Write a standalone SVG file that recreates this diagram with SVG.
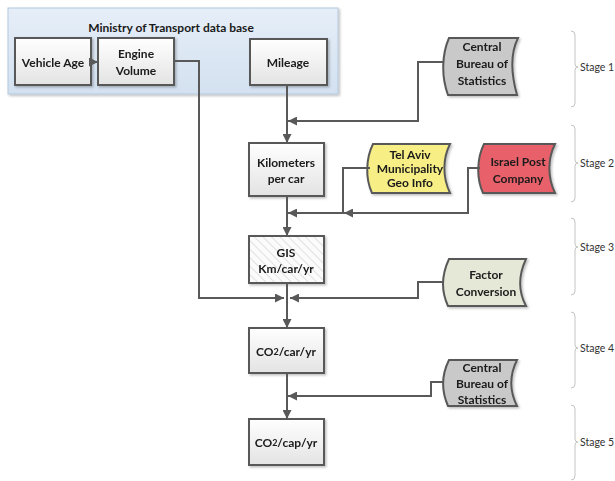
<svg xmlns="http://www.w3.org/2000/svg" width="615" height="481" viewBox="0 0 615 481">
<style>
text{font-family:Lato,"Liberation Sans",sans-serif;font-weight:bold;font-size:12px;fill:#1a1a1a;text-anchor:middle;dominant-baseline:central}
.box{fill:url(#gBox);stroke:#595959;stroke-width:2}
.doc{stroke:#595959;stroke-width:2}
.con{fill:none;stroke:#595959;stroke-width:2}
.brace{fill:none;stroke:#c4c4c4;stroke-width:1}
.stage{font-weight:normal;font-size:10.5px;fill:#333;text-anchor:start}
</style>
<defs>
<linearGradient id="gBox" x1="0" y1="0" x2="0" y2="1"><stop offset="0" stop-color="#ffffff"/><stop offset="1" stop-color="#e3e3e3"/></linearGradient>
<linearGradient id="gMin" x1="0" y1="0" x2="0" y2="1"><stop offset="0" stop-color="#e6eef8"/><stop offset="1" stop-color="#d3e1f0"/></linearGradient>
<pattern id="hatch" width="6" height="6" patternUnits="userSpaceOnUse" patternTransform="rotate(-45)"><rect width="6" height="6" fill="#fbfbfb"/><line x1="0" y1="0" x2="0" y2="6" stroke="#c6c6c6" stroke-width="1"/></pattern>
<marker id="arr" viewBox="0 0 10 10" refX="10" refY="5" markerWidth="9" markerHeight="9" markerUnits="userSpaceOnUse" orient="auto"><path d="M0,0 L10,5 L0,10 z" fill="#595959"/></marker>
<filter id="sh" x="-10%" y="-10%" width="130%" height="130%"><feDropShadow dx="1.5" dy="1.5" stdDeviation="1.2" flood-color="#000" flood-opacity="0.25"/></filter>
</defs>

<g id="ministry">
<rect x="8" y="8" width="330" height="86" fill="url(#gMin)" stroke="#b3c7de" stroke-width="1" filter="url(#sh)"/>
<text x="171" y="27">Ministry of Transport data base</text>
</g>

<g id="vehicle-age" filter="url(#sh)">
<rect class="box" x="15" y="38" width="76" height="47"/>
<text x="53" y="62">Vehicle Age</text>
</g>
<g id="engine-volume" filter="url(#sh)">
<rect class="box" x="98" y="38" width="76" height="47"/>
<text x="136" y="53">Engine</text>
<text x="136" y="70">Volume</text>
</g>
<g id="mileage" filter="url(#sh)">
<rect class="box" x="250" y="39" width="77" height="46"/>
<text x="288" y="62">Mileage</text>
</g>

<g id="cbs1" filter="url(#sh)">
<path class="doc" fill="#c9c9c9" d="M449,38 L518,38 C511,52 510,70 517,95 L448,95 C441,76 442,54 449,38 z"/>
<text x="482" y="46" font-size="13">Central</text>
<text x="482" y="63" font-size="13">Bureau of</text>
<text x="482" y="80" font-size="13">Statistics</text>
</g>

<g id="km-per-car" filter="url(#sh)">
<rect class="box" x="249" y="143" width="75" height="53"/>
<text x="286" y="162">Kilometers</text>
<text x="286" y="178">per car</text>
</g>

<g id="tel-aviv" filter="url(#sh)">
<path class="doc" fill="#f7ef85" d="M373,144 L450,144 C443,158 442,176 450,193 L372,193 C365,178 366,158 373,144 z"/>
<text x="410" y="154" font-size="11">Tel Aviv</text>
<text x="410" y="168" font-size="11">Municipality</text>
<text x="410" y="182" font-size="11">Geo Info</text>
</g>

<g id="israel-post" filter="url(#sh)">
<path class="doc" fill="#e8616a" d="M484,144 L555,144 C548,158 547,176 555,193 L483,193 C476,178 477,158 484,144 z"/>
<text x="518" y="161">Israel Post</text>
<text x="518" y="178">Company</text>
</g>

<g id="gis" filter="url(#sh)">
<rect x="249" y="236" width="75" height="47" fill="url(#hatch)" stroke="#595959" stroke-width="2"/>
<text x="286" y="252">GIS</text>
<text x="286" y="268">Km/car/yr</text>
</g>

<g id="factor" filter="url(#sh)">
<path class="doc" fill="#e5e8d6" d="M449,259 L526,259 C519,274 518,291 526,306 L448,306 C441,291 442,274 449,259 z"/>
<text x="486" y="274" font-size="13">Factor</text>
<text x="486" y="291" font-size="13">Conversion</text>
</g>

<g id="co2-car" filter="url(#sh)">
<rect class="box" x="249" y="328" width="75" height="45"/>
<text x="286" y="351">CO<tspan font-size="9">2</tspan>/car/yr</text>
</g>

<g id="cbs2" filter="url(#sh)">
<path class="doc" fill="#c9c9c9" d="M449,360 L517,360 C510,374 509,390 517,406 L448,406 C441,390 442,374 449,360 z"/>
<text x="482" y="367" font-size="13">Central</text>
<text x="482" y="383" font-size="13">Bureau of</text>
<text x="482" y="399" font-size="13">Statistics</text>
</g>

<g id="co2-cap" filter="url(#sh)">
<rect class="box" x="249" y="419" width="75" height="46"/>
<text x="286" y="442">CO<tspan font-size="9">2</tspan>/cap/yr</text>
</g>

<g id="connectors">
<path class="con" d="M91,62 L98,62" marker-end="url(#arr)"/>
<path class="con" d="M174,61 L199,61 L199,298 L284,298" marker-end="url(#arr)"/>
<path class="con" d="M287,85 L287,143" marker-end="url(#arr)"/>
<path class="con" d="M444,62 L418,62 L418,121 L288,121" marker-end="url(#arr)"/>
<path class="con" d="M370,168 L343,168 L343,213 L288,213" marker-end="url(#arr)"/>
<path class="con" d="M480,168 L468,168 L468,213 L344,213" marker-end="url(#arr)"/>
<path class="con" d="M287,196 L287,236" marker-end="url(#arr)"/>
<path class="con" d="M444,282 L418,282 L418,298 L290,298" marker-end="url(#arr)"/>
<path class="con" d="M287,283 L287,328" marker-end="url(#arr)"/>
<path class="con" d="M444,382 L431,382 L431,396 L288,396" marker-end="url(#arr)"/>
<path class="con" d="M287,373 L287,419" marker-end="url(#arr)"/>
</g>

<g id="stages">
<path class="brace" d="M571,31 Q575,31 575,35 L575,64 Q575,67 578,67 Q575,67 575,70 L575,103 Q575,107 571,107"/>
<text class="stage" x="580" y="67">Stage 1</text>
<path class="brace" d="M571,125 Q575,125 575,129 L575,160 Q575,163 578,163 Q575,163 575,166 L575,198 Q575,202 571,202"/>
<text class="stage" x="580" y="163">Stage 2</text>
<path class="brace" d="M571,218 Q575,218 575,222 L575,244 Q575,247 578,247 Q575,247 575,250 L575,291 Q575,295 571,295"/>
<text class="stage" x="580" y="247">Stage 3</text>
<path class="brace" d="M571,312 Q575,312 575,316 L575,345 Q575,348 578,348 Q575,348 575,351 L575,384 Q575,388 571,388"/>
<text class="stage" x="580" y="348">Stage 4</text>
<path class="brace" d="M571,405 Q575,405 575,409 L575,439 Q575,442 578,442 Q575,442 575,445 L575,476 Q575,480 571,480"/>
<text class="stage" x="580" y="442">Stage 5</text>
</g>
</svg>
